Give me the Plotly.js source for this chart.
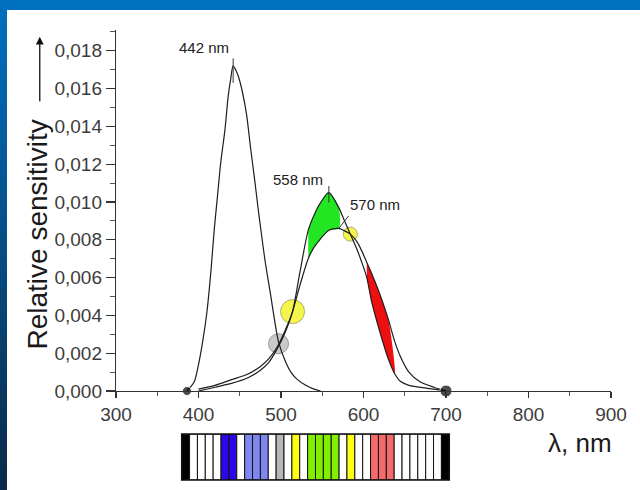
<!DOCTYPE html>
<html>
<head>
<meta charset="utf-8">
<script src="https://cdn.plot.ly/plotly-3.0.1.min.js"></script>
<style>
  html, body { margin: 0; padding: 0; background: #fff; }
  #frame { position: relative; width: 640px; height: 490px; overflow: hidden; background: #fff; }
  #topband { position: absolute; left: 0; top: 0; width: 640px; height: 10px; background: #0070c0; }
  #sideband { position: absolute; left: 0; top: 0; width: 7px; height: 490px;
              background: linear-gradient(#0070c0, #0a2a48); }
  #chart { position: absolute; left: 0; top: 0; width: 640px; height: 490px; }
</style>
</head>
<body>
<div id="frame">
  <div id="topband"></div>
  <div id="sideband"></div>
  <div id="chart"></div>
</div>
<script>
// Short-wave (blue) cone sensitivity
const sLambda = [386, 390, 395, 400, 405, 410, 415, 419, 423, 427, 432, 436, 439, 442, 446, 450,
                 458, 463, 468, 473, 476, 481, 487, 492, 497, 505, 512, 520, 530, 540, 548];
const sValue  = [0, 0.0002, 0.0005, 0.0014, 0.0026, 0.0041, 0.0063, 0.0085, 0.0103, 0.0121, 0.0138,
                 0.0156, 0.0165, 0.0172, 0.0169, 0.0164, 0.0147, 0.0129, 0.0112, 0.0094, 0.0084,
                 0.0068, 0.0052, 0.0038, 0.0026, 0.0016, 0.0010, 0.0006, 0.0003, 0.0001, 0];

// Middle- and long-wave cone sensitivities on a shared wavelength grid
const mlLambda = [400, 420, 440, 460, 475, 485, 495, 505, 514, 523, 533, 540, 547, 558, 570, 576,
                  584, 592, 598, 604, 610, 620, 630, 638, 645, 655, 668, 685, 700];
const mValue   = [0, 0.0002, 0.0004, 0.0007, 0.0011, 0.0015, 0.0022, 0.0031, 0.0042, 0.0063, 0.0085,
                  0.0093, 0.0099, 0.0105, 0.0097, 0.0091, 0.0083, 0.0075, 0.0068, 0.0060, 0.0047,
                  0.0031, 0.0017, 0.0009, 0.0005, 0.0003, 0.0002, 0.0001, 0];
const lValue   = [0.0001, 0.0003, 0.0006, 0.0009, 0.0013, 0.0017, 0.0023, 0.0032, 0.0042, 0.0056, 0.0070,
                  0.0076, 0.0080, 0.0085, 0.0086, 0.0085, 0.0083, 0.0079, 0.0074, 0.0068, 0.0062,
                  0.0051, 0.0038, 0.0026, 0.0018, 0.0010, 0.0005, 0.0002, 0];

// Peak wavelengths that are labelled on the chart
const peakLabels = [442, 558, 570];

// Curve crossings marked with discs
const crossLambda = [497, 514, 584];
const crossValue  = [0.0025, 0.0042, 0.0083];

// Ends of the visible range
const endLambda = [386, 700];
const endValue  = [0, 0];

// Shaded bands between the M and L curves
const greenBand = [533, 570];
const redBandM  = [604, 638];
const redBandL  = [604, 630];

// Spectrum strip below the axis
const stripeColors = [
  '#000000', '#ffffff', '#ffffff', '#ffffff', '#ffffff', '#2a08e8', '#2a08e8', '#ffffff',
  '#7f86ee', '#7f86ee', '#7f86ee', '#ffffff', '#b8b8b8', '#ffffff', '#ffff10', '#ffffff',
  '#82ee00', '#82ee00', '#82ee00', '#82ee00', '#ffffff', '#ffff10', '#ffffff', '#ffffff',
  '#f46a6a', '#f46a6a', '#f46a6a', '#ffffff', '#ffffff', '#ffffff', '#ffffff', '#ffffff',
  '#ffffff', '#000000'
];

const lineColor = '#1e1e1e';
const font = 'Liberation Sans, Arial, sans-serif';

function bandPolygon(upper, lower, upperRange, lowerRange) {
  const xs = [], ys = [];
  mlLambda.forEach((l, i) => {
    if (l >= upperRange[0] && l <= upperRange[1]) { xs.push(l); ys.push(upper[i]); }
  });
  for (let i = mlLambda.length - 1; i >= 0; i--) {
    const l = mlLambda[i];
    if (l >= lowerRange[0] && l <= lowerRange[1]) { xs.push(l); ys.push(lower[i]); }
  }
  return { x: xs, y: ys };
}

const green = bandPolygon(mValue, lValue, greenBand, greenBand);
const red = bandPolygon(mValue, lValue, redBandM, redBandL);

const traces = [
  {
    x: crossLambda, y: crossValue, type: 'scatter', mode: 'markers', hoverinfo: 'skip',
    marker: {
      size: [20, 24, 14],
      color: ['#b4b4b4', '#f2f200', '#f2f200'],
      line: { color: ['#6e6e6e', '#8c8a30', '#8c8a30'], width: 1 }
    }
  },
  {
    x: green.x, y: green.y, type: 'scatter', mode: 'lines', fill: 'toself',
    fillcolor: '#22e622', line: { width: 0, shape: 'spline', smoothing: 0.8 }, hoverinfo: 'skip'
  },
  {
    x: red.x, y: red.y, type: 'scatter', mode: 'lines', fill: 'toself',
    fillcolor: '#ee1010', line: { width: 0, shape: 'spline', smoothing: 0.8 }, hoverinfo: 'skip'
  },
  {
    x: sLambda, y: sValue, type: 'scatter', mode: 'lines',
    line: { color: lineColor, width: 1.2, shape: 'spline', smoothing: 0.8 }
  },
  {
    x: mlLambda, y: mValue, type: 'scatter', mode: 'lines',
    line: { color: lineColor, width: 1.2, shape: 'spline', smoothing: 0.8 }
  },
  {
    x: mlLambda, y: lValue, type: 'scatter', mode: 'lines',
    line: { color: lineColor, width: 1.2, shape: 'spline', smoothing: 0.8 }
  },
  {
    x: endLambda, y: endValue, type: 'scatter', mode: 'markers', cliponaxis: false,
    marker: { size: [9, 12], color: '#000' }
  },
  {
    x: stripeColors.map((c, i) => i), y: stripeColors.map(() => 1), type: 'bar',
    xaxis: 'x2', yaxis: 'y2', width: 1,
    marker: { color: stripeColors, line: { color: '#111', width: 1 } }, hoverinfo: 'skip'
  }
];

function valueAt(lambdas, values, l) {
  return values[lambdas.indexOf(l)];
}
const peakValues = [
  valueAt(sLambda, sValue, peakLabels[0]),
  valueAt(mlLambda, mValue, peakLabels[1]),
  valueAt(mlLambda, lValue, peakLabels[2])
];
const labelShift = [[-29, 18], [-31, 13], [36, 24]];
const leader = [
  { ax: 0, ay: -26, yshift: -17 },
  { ax: 0, ay: -18, yshift: -10 },
  { ax: 11, ay: -14, yshift: 0 }
];

const annotations = [];
peakLabels.forEach((l, i) => {
  annotations.push({
    x: l, y: peakValues[i], xref: 'x', yref: 'y', text: l + ' nm', showarrow: false,
    xanchor: 'center', yanchor: 'middle',
    xshift: labelShift[i][0], yshift: labelShift[i][1],
    font: { family: font, size: 15, color: '#222' }
  });
  annotations.push({
    x: l, y: peakValues[i], xref: 'x', yref: 'y', text: '', showarrow: true,
    arrowhead: 0, arrowwidth: 1, arrowcolor: '#333',
    ax: leader[i].ax, ay: leader[i].ay, yshift: leader[i].yshift
  });
});

// Axis titles
annotations.push({
  xref: 'paper', yref: 'paper', x: -0.158, y: 0.545, text: 'Relative sensitivity',
  xanchor: 'center', yanchor: 'middle',
  textangle: -90, showarrow: false, font: { family: font, size: 28, color: '#1a1a1a' }
});
annotations.push({
  xref: 'paper', yref: 'paper', x: -0.154, y: 0.985, text: '', showarrow: true,
  arrowhead: 2, arrowsize: 1.2, arrowwidth: 1.3, arrowcolor: '#111', ax: 0, ay: 66
});
annotations.push({
  xref: 'paper', yref: 'paper', x: 0.937, y: 0.082, text: 'λ, nm', showarrow: false,
  xanchor: 'center', yanchor: 'middle',
  font: { family: font, size: 26, color: '#1a1a1a' }
});

const tickFont = { family: font, size: 19, color: '#3c3c3c' };

const layout = {
  width: 640, height: 490,
  margin: { l: 116, r: 29, t: 30, b: 10 },
  paper_bgcolor: 'rgba(0,0,0,0)', plot_bgcolor: 'rgba(0,0,0,0)',
  showlegend: false, separators: ',.', bargap: 0,
  xaxis: {
    range: [300, 900], domain: [0, 1], anchor: 'y', dtick: 100,
    showline: true, linecolor: '#333', linewidth: 1.2, showgrid: false, zeroline: false,
    ticks: 'outside', ticklen: 6, tickwidth: 1.2, tickcolor: '#333', tickfont: tickFont,
    minor: { dtick: 50, ticks: 'outside', ticklen: 4, tickcolor: '#555', tickwidth: 1 }
  },
  yaxis: {
    range: [0, 0.0191], domain: [0.1978, 1], anchor: 'x', dtick: 0.002, tickformat: '.3f',
    showline: true, linecolor: '#333', linewidth: 1.2, showgrid: false, zeroline: false,
    ticks: 'outside', ticklen: 9, tickwidth: 1.2, tickcolor: '#333', tickfont: tickFont,
    minor: { dtick: 0.001, ticks: 'outside', ticklen: 5, tickcolor: '#555', tickwidth: 1 }
  },
  xaxis2: { domain: [0.1327, 0.6733], range: [-0.5, stripeColors.length - 0.5], anchor: 'y2', visible: false },
  yaxis2: { domain: [0, 0.1022], range: [0, 1], anchor: 'x2', visible: false },
  shapes: [{
    type: 'rect', xref: 'x2 domain', yref: 'y2 domain', x0: 0, x1: 1, y0: 0, y1: 1,
    line: { color: '#111', width: 1.5 }
  }],
  annotations: annotations
};

Plotly.newPlot('chart', traces, layout, { staticPlot: true, displayModeBar: false });
</script>
</body>
</html>
